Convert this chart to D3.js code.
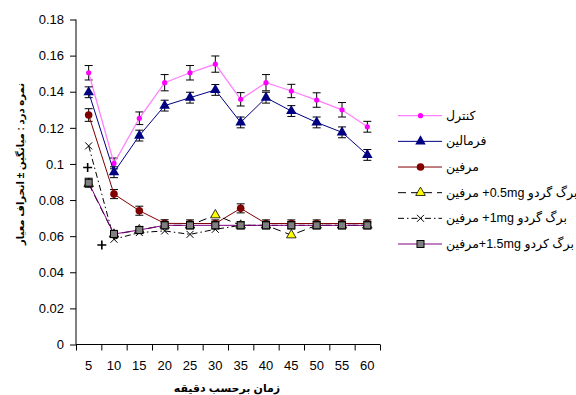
<!DOCTYPE html>
<html>
<head>
<meta charset="utf-8">
<script src="https://cdn.jsdelivr.net/npm/d3@7"></script>
<style>
  body { margin: 0; background: #fff; }
  svg { font-family: "Liberation Sans", Arial, "DejaVu Sans", sans-serif; }
</style>
</head>
<body>
<svg id="chart" width="576" height="395"></svg>
<script>
// minutes on the x axis
const minutes = [5, 10, 15, 20, 25, 30, 35, 40, 45, 50, 55, 60];
const yTicks = [0, 0.02, 0.04, 0.06, 0.08, 0.1, 0.12, 0.14, 0.16, 0.18];

// series values (mean pain score) and their errors
const control    = [0.1505, 0.1003, 0.1253, 0.145, 0.1505, 0.1553, 0.1358, 0.145, 0.1404, 0.1354, 0.130, 0.1206];
const controlErr = [0.004, 0.003, 0.0035, 0.0045, 0.004, 0.0045, 0.0037, 0.0045, 0.0037, 0.004, 0.004, 0.003];
const formalin    = [0.1397, 0.0954, 0.1157, 0.1323, 0.1367, 0.141, 0.123, 0.1367, 0.1293, 0.123, 0.1175, 0.105];
const formalinErr = [0.003, 0.003, 0.003, 0.003, 0.003, 0.003, 0.003, 0.003, 0.003, 0.003, 0.003, 0.003];
const morphine    = [0.1271, 0.0833, 0.0741, 0.0671, 0.067, 0.067, 0.0754, 0.067, 0.067, 0.067, 0.067, 0.067];
const morphineErr = [0.0035, 0.0025, 0.0025, 0.002, 0.002, 0.002, 0.0025, 0.002, 0.002, 0.002, 0.002, 0.002];
const mg05 = [0.089, 0.061, 0.0634, 0.066, 0.066, 0.0717, 0.066, 0.066, 0.0606, 0.066, 0.066, 0.066];
const mg1  = [0.110, 0.0583, 0.062, 0.0629, 0.061, 0.0638, 0.066, 0.066, 0.066, 0.066, 0.066, 0.066];
const mg15    = [0.0896, 0.0612, 0.0634, 0.066, 0.066, 0.066, 0.066, 0.066, 0.066, 0.066, 0.066, 0.066];
const mg15Err = [0.0025, 0.002, 0.002, 0.002, 0.002, 0.002, 0.002, 0.002, 0.002, 0.002, 0.002, 0.002];

// stray "+" markers seen in the chart (minute, value)
const plusMinutes = [4.8, 7.6];
const plusValues  = [0.098, 0.0551];

const labels = ['کنترل', 'فرمالین', 'مرفین', 'برگ گردو 0.5mg+ مرفین', 'برگ گردو 1mg+ مرفین', 'برگ کردو 1.5mg+مرفین'];

const svg = d3.select('#chart');

const x = d3.scaleLinear().domain([2.5, 62.5]).range([76, 380]);
const y = d3.scaleLinear().domain([0, 0.18]).range([344.5, 19.5]);

/// axes
const yAxis = svg.append('g')
  .attr('transform', 'translate(76,0)')
  .call(d3.axisLeft(y).tickValues(yTicks).tickSize(6).tickPadding(6)
    .tickFormat(function(d) { return String(+d.toFixed(2)); }));

const bounds = minutes.map(function(m) { return m - 2.5; }).concat([62.5]);
const xAxis = svg.append('g')
  .attr('transform', 'translate(0,344.5)')
  .call(d3.axisBottom(x).tickValues(bounds).tickSize(6).tickFormat(''));

svg.selectAll('.domain, .tick line').attr('stroke', '#000');
svg.selectAll('.tick text').attr('font-size', 13).attr('fill', '#000');
yAxis.select('.domain').attr('d', 'M0,' + y(0) + 'V' + y(0.18));
xAxis.select('.domain').attr('d', 'M' + x(2.5) + ',0H' + x(62.5));

svg.append('g').selectAll('text')
  .data(minutes)
  .enter().append('text')
  .attr('x', function(d) { return x(d); })
  .attr('y', 370)
  .attr('text-anchor', 'middle')
  .attr('font-size', 13)
  .text(function(d) { return d; });

/// axis titles
svg.append('text')
  .attr('x', 227).attr('y', 392)
  .attr('text-anchor', 'middle')
  .attr('font-size', 11).attr('font-weight', 'bold')
  .attr('direction', 'rtl')
  .text('زمان برحسب دقیقه');

svg.append('text')
  .attr('transform', 'translate(24,164) rotate(-90)')
  .attr('text-anchor', 'middle')
  .attr('font-size', 10).attr('font-weight', 'bold')
  .attr('direction', 'rtl')
  .text('نمره درد : میانگین ± انحراف معیار');

/// marker painters
function drawMarker(g, type, cx, cy) {
  if (type === 'dot') {
    g.append('circle').attr('cx', cx).attr('cy', cy).attr('r', 2.6).attr('fill', '#ff00ff');
  } else if (type === 'triangle') {
    g.append('path').attr('d', d3.symbol(d3.symbolTriangle, 48)()).attr('transform', 'translate(' + cx + ',' + cy + ')')
      .attr('fill', '#000080');
  } else if (type === 'circle') {
    g.append('circle').attr('cx', cx).attr('cy', cy).attr('r', 3.8).attr('fill', '#800000');
  } else if (type === 'ytriangle') {
    g.append('path').attr('d', d3.symbol(d3.symbolTriangle, 40)()).attr('transform', 'translate(' + cx + ',' + cy + ')')
      .attr('fill', '#ffff00').attr('stroke', '#000').attr('stroke-width', 0.8);
  } else if (type === 'x') {
    g.append('path').attr('d', 'M-3.5,-3.5L3.5,3.5M-3.5,3.5L3.5,-3.5').attr('transform', 'translate(' + cx + ',' + cy + ')')
      .attr('stroke', '#000').attr('stroke-width', 1);
  } else if (type === 'square') {
    g.append('rect').attr('x', cx - 3.5).attr('y', cy - 3.5).attr('width', 7).attr('height', 7)
      .attr('fill', '#808080').attr('stroke', '#000').attr('stroke-width', 1);
  } else if (type === 'plus') {
    g.append('path').attr('d', 'M-4.5,0H4.5M0,-4.5V4.5').attr('transform', 'translate(' + cx + ',' + cy + ')')
      .attr('stroke', '#000').attr('stroke-width', 1.6);
  }
}

const series = [
  {values: control,  err: controlErr,  color: '#ff80ff', width: 1.3, dash: null,        marker: 'dot'},
  {values: formalin, err: formalinErr, color: '#000080', width: 1,   dash: null,        marker: 'triangle'},
  {values: morphine, err: morphineErr, color: '#800000', width: 1,   dash: null,        marker: 'circle'},
  {values: mg05,     err: null,        color: '#000',    width: 1,   dash: '8,5',       marker: 'ytriangle'},
  {values: mg1,      err: null,        color: '#000',    width: 1,   dash: '6,3,1.5,3', marker: 'x'},
  {values: mg15,     err: mg15Err,     color: '#800080', width: 1,   dash: null,        marker: 'square'}
];

const line = d3.line()
  .x(function(d, i) { return x(minutes[i]); })
  .y(function(d) { return y(d); });

const plot = svg.append('g');

series.forEach(function(s) {
  const g = plot.append('g');
  if (s.err) {
    s.values.forEach(function(v, i) {
      const cx = x(minutes[i]);
      const top = y(v + s.err[i]), bot = y(v - s.err[i]);
      g.append('path')
        .attr('d', 'M' + cx + ',' + top + 'V' + bot + 'M' + (cx - 4) + ',' + top + 'H' + (cx + 4) + 'M' + (cx - 4) + ',' + bot + 'H' + (cx + 4))
        .attr('stroke', '#000').attr('stroke-width', 1).attr('fill', 'none');
    });
  }
  g.append('path')
    .datum(s.values)
    .attr('d', line)
    .attr('fill', 'none')
    .attr('stroke', s.color)
    .attr('stroke-width', s.width)
    .attr('stroke-dasharray', s.dash);
  s.values.forEach(function(v, i) { drawMarker(g, s.marker, x(minutes[i]), y(v)); });
});

const plusG = plot.append('g');
plusMinutes.forEach(function(m, i) { drawMarker(plusG, 'plus', x(m), y(plusValues[i])); });

/// legend
const legend = svg.append('g');
const legendY = d3.scalePoint().domain(d3.range(series.length)).range([115.7, 244]);
series.forEach(function(s, i) {
  const ly = legendY(i);
  legend.append('path')
    .attr('d', 'M398,' + ly + 'H442')
    .attr('stroke', s.color).attr('stroke-width', s.width).attr('stroke-dasharray', s.dash).attr('fill', 'none');
  drawMarker(legend, s.marker, 420.5, ly);
  legend.append('text')
    .attr('x', 446).attr('y', ly + 4)
    .attr('font-size', 12.5)
    .attr('direction', 'rtl')
    .attr('text-anchor', 'end')
    .text(labels[i]);
});
</script>
</body>
</html>
